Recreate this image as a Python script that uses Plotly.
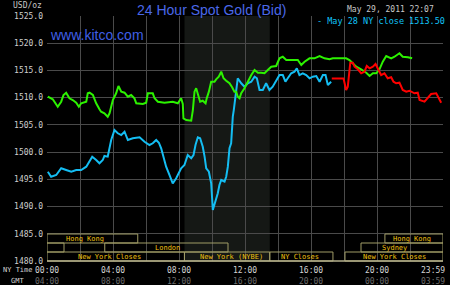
import plotly.graph_objects as go

# ---------------- data (hours NY time, USD/oz) ----------------
green_hours = [0.05, 0.35, 0.65, 0.86, 1.0, 1.16, 1.36, 1.56, 1.77, 1.93, 2.07, 2.38, 2.47, 2.58, 2.78, 2.98,
               3.18, 3.28, 3.48, 3.68, 3.79, 3.99, 4.19, 4.33, 4.50, 4.70, 4.90, 5.10, 5.30, 5.41, 5.81, 6.01,
               6.11, 6.41, 6.52, 6.72, 7.12, 7.62, 7.93, 8.13, 8.23, 8.27, 8.44, 8.74, 8.84, 8.94, 9.04, 9.14,
               9.28, 9.44, 9.61, 9.68, 9.81, 9.95, 10.15, 10.25, 10.41, 10.56, 10.70, 10.86, 11.06, 11.22,
               11.36, 11.47, 11.56, 11.67, 11.77, 11.97, 12.17, 12.38, 12.58, 12.78, 12.98, 13.18, 13.38,
               13.59, 13.89, 14.09, 14.29, 14.50, 14.90, 15.20, 15.41, 15.61, 15.91, 16.21, 16.52, 16.82,
               17.12, 17.32, 18.13, 18.33, 18.53, 18.74, 19.04, 19.35, 19.55, 19.75, 19.95, 20.15, 20.35,
               20.56, 20.86, 21.06, 21.36, 21.56, 21.87, 22.13]
green_price = [1510.18, 1509.70, 1508.34, 1509.26, 1510.49, 1510.91, 1509.88, 1509.57, 1509.08, 1508.34,
               1508.97, 1509.26, 1510.80, 1510.91, 1510.49, 1508.97, 1507.86, 1507.42, 1507.13, 1506.50,
               1507.13, 1509.57, 1510.80, 1512.14, 1511.10, 1510.91, 1510.18, 1510.49, 1509.88, 1508.97,
               1508.84, 1509.08, 1510.80, 1510.80, 1509.88, 1509.26, 1509.08, 1509.26, 1508.97, 1509.88,
               1508.84, 1506.21, 1505.90, 1505.77, 1507.73, 1511.10, 1511.72, 1510.49, 1509.26, 1509.44,
               1508.97, 1509.88, 1511.10, 1512.93, 1512.93, 1513.37, 1513.85, 1514.77, 1513.56, 1513.12,
               1512.64, 1511.90, 1511.10, 1511.10, 1510.18, 1509.88, 1510.80, 1511.72, 1512.93, 1514.16,
               1515.08, 1514.59, 1514.59, 1514.48, 1515.08, 1515.69, 1515.82, 1517.23, 1517.52, 1516.92,
               1516.92, 1516.92, 1516.00, 1516.61, 1517.23, 1517.23, 1517.65, 1517.23, 1517.05, 1517.23,
               1517.23, 1516.92, 1516.31, 1515.69, 1515.21, 1514.59, 1513.98, 1514.48, 1514.48, 1515.21,
               1516.61, 1517.65, 1517.23, 1517.52, 1518.15, 1517.52, 1517.41, 1517.23]

cyan_hours = [0.05, 0.25, 0.56, 0.86, 1.16, 1.47, 1.77, 2.07, 2.38, 2.58, 2.74, 2.98, 3.18, 3.38, 3.48, 3.68,
              3.79, 3.89, 4.09, 4.29, 4.50, 4.70, 4.90, 5.20, 5.61, 5.91, 6.21, 6.41, 6.62, 6.78, 6.92, 7.06,
              7.22, 7.42, 7.62, 7.83, 8.13, 8.33, 8.53, 8.74, 8.88, 9.0, 9.14, 9.28, 9.44, 9.55, 9.65, 9.81,
              9.95, 10.05, 10.15, 10.25, 10.35, 10.45, 10.56, 10.76, 10.86, 10.96, 11.06, 11.16, 11.2, 11.26,
              11.32, 11.41, 11.56, 11.77, 11.97, 12.17, 12.38, 12.58, 12.72, 12.88, 13.08, 13.28, 13.48,
              13.68, 13.89, 14.09, 14.29, 14.45, 14.59, 14.80, 15.0, 15.14, 15.30, 15.50, 15.71, 15.91,
              16.11, 16.32, 16.52, 16.72, 16.88, 17.02, 17.22]
cyan_price = [1496.40, 1495.48, 1495.80, 1497.03, 1496.71, 1496.40, 1496.71, 1496.71, 1497.32, 1498.24,
              1499.16, 1498.55, 1497.95, 1498.55, 1499.29, 1499.16, 1500.52, 1502.22, 1504.06, 1503.46,
              1503.14, 1503.75, 1502.22, 1502.54, 1502.72, 1501.91, 1501.31, 1501.62, 1502.22, 1501.73,
              1500.70, 1499.16, 1497.32, 1495.80, 1494.27, 1495.19, 1497.03, 1497.63, 1499.47, 1498.86,
              1499.47, 1501.31, 1502.72, 1502.54, 1500.99, 1499.16, 1497.03, 1496.40, 1494.27, 1489.37,
              1490.29, 1491.20, 1492.44, 1493.96, 1494.88, 1494.57, 1495.48, 1497.32, 1500.70, 1501.62,
              1504.67, 1506.50, 1507.73, 1510.18, 1513.56, 1512.64, 1512.01, 1512.64, 1512.93, 1513.85,
              1513.56, 1511.41, 1511.41, 1512.64, 1511.41, 1512.01, 1513.24, 1514.16, 1514.16, 1512.93,
              1513.56, 1514.48, 1514.77, 1515.39, 1514.16, 1514.48, 1514.16, 1513.56, 1513.85, 1513.98,
              1512.93, 1514.16, 1514.16, 1512.33, 1512.93]

red_hours = [17.26, 17.97, 18.03, 18.13, 18.23, 18.29, 18.38, 18.53, 18.64, 18.84, 19.04, 19.24, 19.38,
             19.55, 19.75, 19.91, 20.05, 20.25, 20.45, 20.65, 20.86, 21.0, 21.16, 21.36, 21.56, 21.77, 21.97,
             22.27, 22.47, 22.58, 22.88, 23.08, 23.28, 23.59, 23.75, 23.89]
red_price = [1513.50, 1513.50, 1512.75, 1511.41, 1512.01, 1514.16, 1516.42, 1516.42, 1515.69, 1515.21,
             1514.48, 1514.77, 1515.82, 1515.39, 1515.69, 1516.18, 1515.39, 1514.16, 1514.48, 1513.56,
             1513.74, 1512.93, 1512.64, 1512.75, 1511.41, 1511.10, 1511.28, 1510.80, 1510.91, 1509.57,
             1509.26, 1509.88, 1510.67, 1510.80, 1509.88, 1509.08]

y_ticks = [1480, 1485, 1490, 1495, 1500, 1505, 1510, 1515, 1520, 1525]
x_grid = [2, 4, 6, 8, 10, 12, 14, 16, 18, 20, 22]
ny_time_labels = ["00:00", "04:00", "08:00", "12:00", "16:00", "20:00", "23:59"]
gmt_labels = ["04:00", "08:00", "12:00", "16:00", "20:00", "00:00", "03:59"]
label_hours = [0, 4, 8, 12, 16, 20, 24]

# sessions: (row, start hour, end hour, label, label hour)
sessions = [
    (0, 0.0, 5.5, "Hong Kong", 1.03),
    (0, 20.48, 24.0, "Hong Kong", 20.85),
    (1, 0.0, 1.03, "", 0),
    (1, 3.5, 10.97, "London", 6.4),
    (1, 19.03, 24.0, "Sydney", 20.2),
    (2, 0.0, 8.33, "New York Closes", 1.76),
    (2, 8.33, 13.5, "New York (NYBE)", 9.15),
    (2, 13.5, 17.33, "NY Closes", 14.06),
    (2, 18.06, 24.0, "New York Closes", 19.03),
]

title_text = "24 Hour Spot Gold (Bid)"
site_text = "www.kitco.com"
date_text = "May 29, 2011 22:07"
legend_text = "- May 28 NY close 1513.50"

# ---------------- layout helpers ----------------
WIDTH, HEIGHT = 450, 285
L, R, T, B = 47, 7, 16, 24
PW = WIDTH - L - R
PH = HEIGHT - T - B


def px(x):
    return (x - L) / PW


def py(y):
    return (HEIGHT - B - y) / PH


MONO = "DejaVu Sans Mono"
SANS = "Liberation Sans, Arial, sans-serif"

fig = go.Figure()
fig.add_trace(go.Scatter(x=cyan_hours, y=cyan_price, mode="lines",
                         line=dict(color="#14bdf2", width=2), hoverinfo="skip"))
fig.add_trace(go.Scatter(x=green_hours, y=green_price, mode="lines",
                         line=dict(color="#2cf200", width=2), hoverinfo="skip"))
fig.add_trace(go.Scatter(x=red_hours, y=red_price, mode="lines",
                         line=dict(color="#ff0000", width=2), hoverinfo="skip"))

shapes = []
# NY session shading
shapes.append(dict(type="rect", xref="x", yref="paper", x0=8.333, x1=13.5, y0=0, y1=1,
                   fillcolor="#151815", line=dict(width=0), layer="between"))
# legend box (hides vertical grid)
shapes.append(dict(type="rect", xref="paper", yref="paper", x0=px(312.5), x1=1.0, y0=py(43), y1=py(17),
                   fillcolor="#000000", line=dict(width=0), layer="between"))

row_tops = [234, 243, 252]
row_bots = [243, 252, 261]
box_col = "#a09c66"
annotations = []
for row, h0, h1, lab, lh in sessions:
    shapes.append(dict(type="rect", xref="x", yref="paper", x0=h0, x1=h1,
                       y0=py(row_bots[row]), y1=py(row_tops[row]),
                       line=dict(color=box_col, width=1), fillcolor="rgba(0,0,0,0)", layer="above"))
    if lab:
        annotations.append(dict(x=lh, y=py((row_tops[row] + row_bots[row]) / 2 + 0.5), xref="x", yref="paper",
                                text=lab, showarrow=False, xanchor="left", yanchor="middle",
                                font=dict(family=MONO, size=7, color="#f0c010")))
# bottom base line
shapes.append(dict(type="line", xref="paper", yref="paper", x0=0, x1=1, y0=0, y1=0,
                   line=dict(color="#b4b08c", width=1.5), layer="above"))

# time labels
for h, a, g in zip(label_hours, ny_time_labels, gmt_labels):
    anchor = "right" if h == 24 else "center"
    xx = 1.0 + 4 / PW if h == 24 else h / 24
    annotations.append(dict(x=xx, y=py(270), xref="paper", yref="paper", text=a, showarrow=False,
                            xanchor=anchor, yanchor="middle",
                            font=dict(family=MONO, size=8, color="#d4d4d4")))
    annotations.append(dict(x=xx, y=py(281), xref="paper", yref="paper", text=g, showarrow=False,
                            xanchor=anchor, yanchor="middle",
                            font=dict(family=MONO, size=8, color="#6e6e6e")))
annotations.append(dict(x=px(1), y=py(270), xref="paper", yref="paper", text="NY Time", showarrow=False,
                        xanchor="left", yanchor="middle", font=dict(family=MONO, size=7, color="#d4d4d4")))
annotations.append(dict(x=px(9), y=py(281), xref="paper", yref="paper", text="GMT", showarrow=False,
                        xanchor="left", yanchor="middle", font=dict(family=MONO, size=7, color="#d4d4d4")))

# header texts
annotations.append(dict(x=px(211), y=py(10), xref="paper", yref="paper", text=title_text, showarrow=False,
                        xanchor="center", yanchor="middle", font=dict(family=SANS, size=14, color="#4a68e8")))
annotations.append(dict(x=px(48), y=py(35), xref="paper", yref="paper", text=site_text, showarrow=False,
                        xanchor="left", yanchor="middle", font=dict(family=SANS, size=14, color="#3f5fe6")))
annotations.append(dict(x=px(44), y=py(6), xref="paper", yref="paper", text="USD/oz", showarrow=False,
                        xanchor="right", yanchor="middle", font=dict(family=MONO, size=8, color="#c8c8c8")))
annotations.append(dict(x=px(436), y=py(10), xref="paper", yref="paper", text=date_text, showarrow=False,
                        xanchor="right", yanchor="middle", font=dict(family=MONO, size=8, color="#c8c8c8")))
annotations.append(dict(x=px(315), y=py(21), xref="paper", yref="paper", text=legend_text, showarrow=False,
                        xanchor="left", yanchor="middle", font=dict(family=MONO, size=8.5, color="#10c4f8")))

fig.update_layout(
    width=WIDTH, height=HEIGHT,
    margin=dict(l=L, r=R, t=T, b=B, pad=0),
    paper_bgcolor="#000000", plot_bgcolor="#000000",
    showlegend=False,
    shapes=shapes, annotations=annotations,
    xaxis=dict(range=[0, 24], tickvals=x_grid, showticklabels=False, showgrid=True,
               gridcolor="#4a4a4a", gridwidth=1, zeroline=False, showline=False, ticks="", fixedrange=True),
    yaxis=dict(range=[1480, 1525], tickvals=y_ticks, ticktext=[f"{v:.1f}" for v in y_ticks],
               showgrid=True, gridcolor="#4a4a4a", gridwidth=1, zeroline=False, showline=False, ticks="",
               tickfont=dict(family=MONO, size=8, color="#cfcfcf"), ticklabelstandoff=3, fixedrange=True),
)

fig.write_html("out.html")
